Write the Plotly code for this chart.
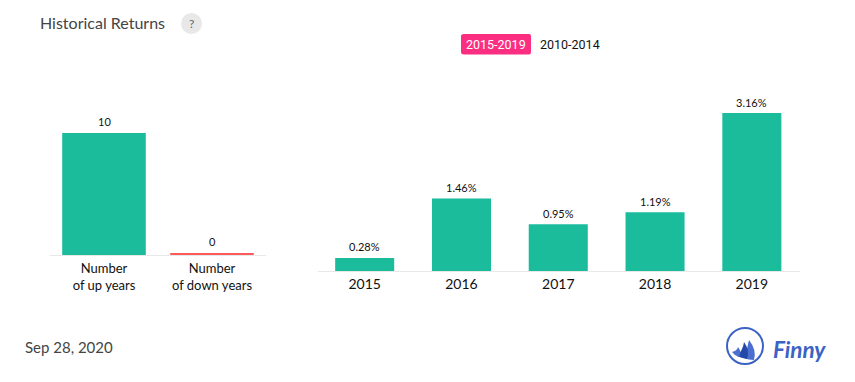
import plotly.graph_objects as go

count_categories = ["Number<br>of up years", "Number<br>of down years"]
count_values = [10, 0]
count_labels = ["10", "0"]
year_categories = ["2015", "2016", "2017", "2018", "2019"]
year_values = [0.28, 1.46, 0.95, 1.19, 3.16]
year_labels = ["0.28%", "1.46%", "0.95%", "1.19%", "3.16%"]

W, H = 855, 382
GREEN, RED, PINK = "#1abc9c", "#ff5a5a", "#fc2e82"
BLUE = "#3b62c4"
FONT = "Lato"


def px(x):
    return x / W


def py(y):
    return 1 - y / H


fig = go.Figure()
fig.add_trace(go.Bar(
    x=count_categories, y=count_values, xaxis="x", yaxis="y",
    width=0.774, marker=dict(color=GREEN, line=dict(width=0)), hoverinfo="skip"))
fig.add_trace(go.Bar(
    x=year_categories, y=year_values, xaxis="x2", yaxis="y2",
    width=0.61, marker=dict(color=GREEN, line=dict(width=0)), hoverinfo="skip"))

axis_common = dict(showgrid=False, zeroline=False, showline=True, linecolor="#e8e8e8",
                   linewidth=1, ticks="outside", tickcolor="rgba(0,0,0,0)", fixedrange=True,
                   automargin=False)
y_common = dict(visible=False, showgrid=False, zeroline=False, fixedrange=True, automargin=False)

shapes = [
    # minimum-height marker for a zero bar
    dict(type="rect", xref="x", yref="y", ysizemode="pixel", yanchor=0,
         x0=1 - 0.774 / 2, x1=1 + 0.774 / 2, y0=0, y1=2,
         fillcolor=RED, line=dict(width=0)),
    # help badge
    dict(type="circle", xref="paper", yref="paper", x0=px(181), x1=px(202), y0=py(34), y1=py(13),
         fillcolor="#e8e8e8", line=dict(width=0)),
    # tab
    dict(type="path", xref="paper", yref="paper",
         path=f"M {px(464)} {py(34)} H {px(529)} Q {px(531)} {py(34)} {px(531)} {py(36)} V {py(52)} "
              f"Q {px(531)} {py(54.5)} {px(529)} {py(54.5)} H {px(464)} Q {px(461)} {py(54.5)} {px(461)} {py(52)} "
              f"V {py(36)} Q {px(461)} {py(34)} {px(464)} {py(34)} Z",
         fillcolor=PINK, line=dict(width=0)),
    # logo ring
    dict(type="circle", xref="paper", yref="paper", x0=px(727), x1=px(763), y0=py(364), y1=py(328),
         fillcolor="white", line=dict(color=BLUE, width=2)),
    # logo sails
    dict(type="path", xref="paper", yref="paper",
         path=f"M {px(749)} {py(340)} Q {px(757)} {py(350)} {px(754)} {py(360)} Q {px(748)} {py(360)} {px(744)} {py(358)} "
              f"Q {px(747)} {py(350)} {px(749)} {py(340)} Z",
         fillcolor="#4a6fd0", line=dict(width=0)),
    dict(type="path", xref="paper", yref="paper",
         path=f"M {px(744)} {py(342)} Q {px(750)} {py(350)} {px(747)} {py(359)} Q {px(741)} {py(358)} {px(737)} {py(356)} "
              f"Q {px(743)} {py(350)} {px(744)} {py(342)} Z",
         fillcolor="#2348a8", line=dict(width=0)),
    dict(type="path", xref="paper", yref="paper",
         path=f"M {px(738)} {py(347)} Q {px(742)} {py(352)} {px(739)} {py(357)} Q {px(735)} {py(356)} {px(732)} {py(352)} "
              f"Q {px(737)} {py(351)} {px(738)} {py(347)} Z",
         fillcolor="#4a6fd0", line=dict(width=0)),
]

annotations = [
    dict(text="Historical Returns", x=px(37.5), y=py(22.5), xanchor="left", yanchor="middle",
         font=dict(size=16, color="#444", family=FONT)),
    dict(text="?", x=px(191.5), y=py(23.5), xanchor="center", yanchor="middle",
         font=dict(size=12, color="#666", family=FONT)),
    dict(text="2015-2019", x=px(496), y=py(44.5), xanchor="center", yanchor="middle",
         font=dict(size=12.5, color="white", family="Roboto")),
    dict(text="2010-2014", x=px(570), y=py(44.5), xanchor="center", yanchor="middle",
         font=dict(size=12.5, color="#111", family="Roboto")),
    dict(text="Sep 28, 2020", x=px(23), y=py(347), xanchor="left", yanchor="middle",
         font=dict(size=15, color="#444", family=FONT)),
    dict(text="<b><i>Finny</i></b>", x=px(771), y=py(349), xanchor="left", yanchor="middle",
         font=dict(size=22.5, color=BLUE, family="Lato")),
]
for a in annotations:
    a.update(xref="paper", yref="paper", showarrow=False)

# value labels, placed from the data (by category position)
for i, (val, lab) in enumerate(zip(count_values, count_labels)):
    annotations.append(dict(xref="x", yref="y", x=i, y=val, text=lab, showarrow=False,
                            yanchor="middle", yshift=11 if val else 13,
                            font=dict(size=11, color="#111", family=FONT)))
for i, (val, lab) in enumerate(zip(year_values, year_labels)):
    annotations.append(dict(xref="x2", yref="y2", x=i, y=val, text=lab, showarrow=False,
                            yanchor="middle", yshift=11,
                            font=dict(size=11, color="#111", family=FONT)))

fig.update_layout(
    width=W, height=H, margin=dict(l=0, r=0, t=0, b=0, autoexpand=False),
    paper_bgcolor="white", plot_bgcolor="white", showlegend=False, barmode="overlay",
    font=dict(family=FONT),
    xaxis=dict(axis_common, domain=[px(50), px(266)], anchor="y", type="category", ticklen=1,
               range=[-0.5, 1.5], tickfont=dict(size=13, color="#111", family=FONT)),
    yaxis=dict(y_common, domain=[py(255), py(100)], range=[0, 155 / 12.2]),
    xaxis2=dict(axis_common, domain=[px(318), px(800)], anchor="y2", type="category", ticklen=0,
                range=[-0.4824, 4.4976], tickfont=dict(size=14, color="#111", family=FONT)),
    yaxis2=dict(y_common, domain=[py(271), py(100)], range=[0.02, 3.42]),
    shapes=shapes, annotations=annotations,
)

fig.write_html("out.html", config=dict(displayModeBar=False),
               post_script="document.body.style.margin='0';")
